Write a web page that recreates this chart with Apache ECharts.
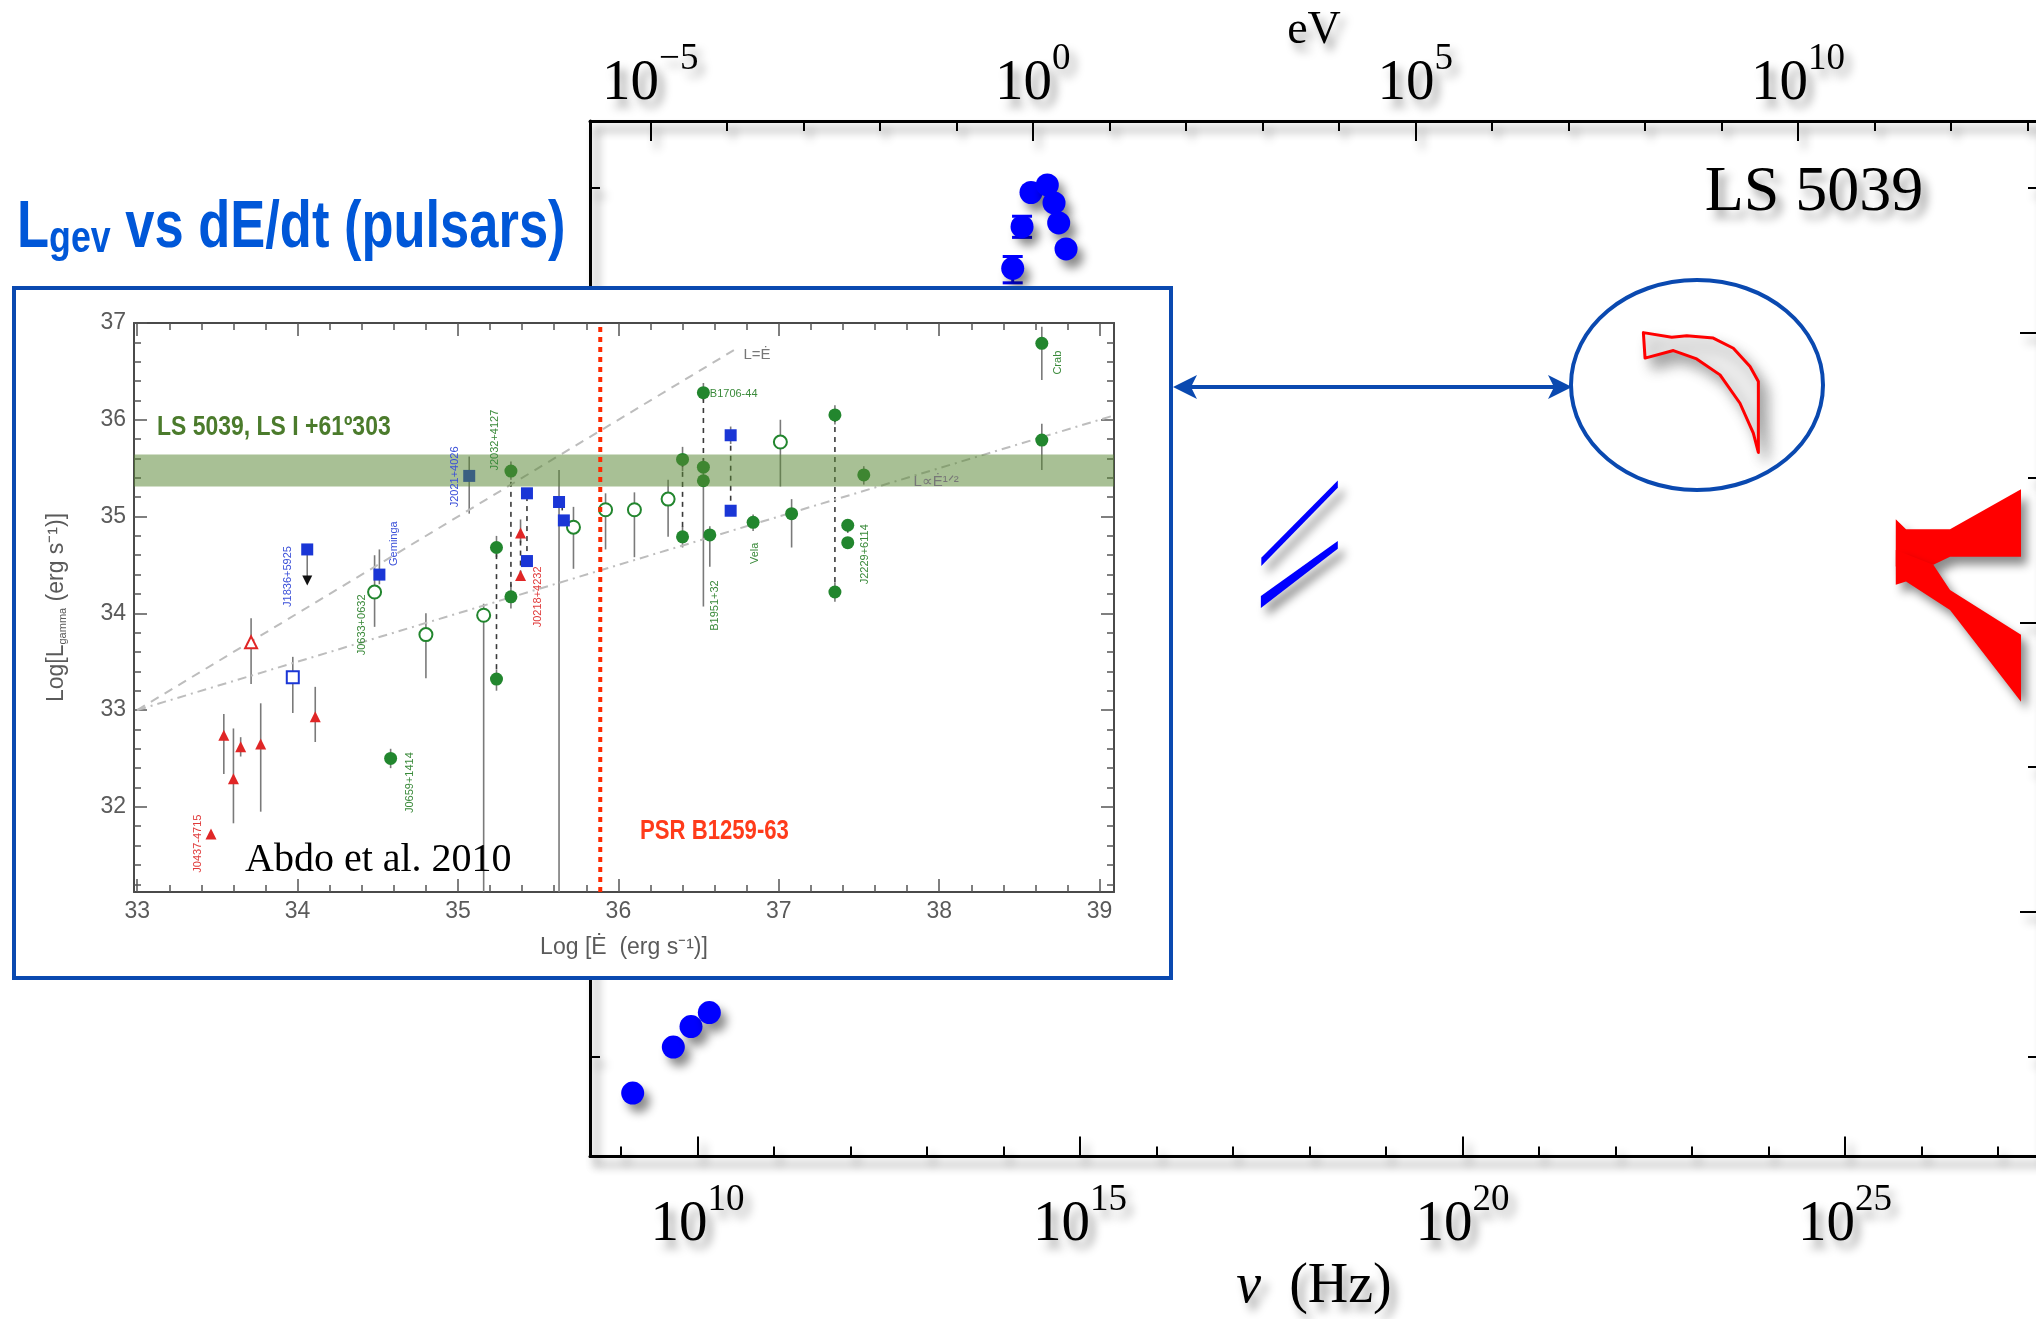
<!DOCTYPE html>
<html>
<head>
<meta charset="utf-8">
<script src="https://cdn.jsdelivr.net/npm/echarts@6/dist/echarts.min.js"></script>
<style>
html,body{margin:0;padding:0;background:#ffffff;}
#chart{width:2036px;height:1319px;}
</style>
</head>
<body>
<div id="chart"></div>
<script>
// ===== Main SED of LS 5039 : x = log10(nu/Hz), y = log10(nuFnu) =====
const sedNuMajor = [10, 15, 20, 25];
const sedNuMinor = [9, 11, 12, 13, 14, 16, 17, 18, 19, 21, 22, 23, 24, 26, 27];
const sedEvMajor = [-5, 0, 5, 10];
const sedEvMinor = [-4, -3, -2, -1, 1, 2, 3, 4, 6, 7, 8, 9, 11, 12, 13];
const sedYMajor = [-12, -11, -10];
const sedYMinor = [-12.5, -11.5, -10.5, -9.5];
const sedXMin = 8.596, sedXMax = 27.522, sedYMin = -12.845, sedYMax = -9.268;
const logHzPerEv = 14.3835;

const radioX = [9.154, 9.685, 9.916, 10.156];
const radioY = [-12.626, -12.467, -12.396, -12.348];
const opticalX = [14.121, 14.243, 14.360, 14.573, 14.661, 14.722, 14.818];
const opticalY = [-9.777, -9.633, -9.515, -9.489, -9.551, -9.620, -9.710];
const opticalErrX = [14.121, 14.243];
const opticalErrLo = [-9.827, -9.670];
const opticalErrHi = [-9.736, -9.597];

const xrayHighPoly = [[17.37, -10.777], [18.37, -10.5095], [18.37, -10.535], [17.37, -10.805]];
const xrayLowPoly = [[17.365, -10.9085], [18.37, -10.7185], [18.37, -10.746], [17.365, -10.950]];
const fermiPoly = [[22.364, -9.999], [22.735, -10.015], [22.931, -10.010], [23.278, -10.018], [23.540, -10.053],
  [23.758, -10.116], [23.867, -10.168], [23.867, -10.413], [23.801, -10.346], [23.627, -10.243],
  [23.366, -10.145], [23.061, -10.090], [22.756, -10.061], [22.386, -10.087]];
const hessInfPoly = [[25.663, -10.644], [25.797, -10.678], [26.372, -10.678], [27.300, -10.540], [27.300, -10.773],
  [26.372, -10.773], [26.154, -10.801], [25.663, -10.807]];
const hessSupPoly = [[25.663, -10.750], [26.154, -10.801], [26.372, -10.888], [27.300, -11.043], [27.300, -11.274],
  [26.372, -10.957], [25.797, -10.859], [25.663, -10.870]];

// ===== Inset: Abdo et al. 2010, Log L_gamma vs Log Edot =====
const insetXMin = 32.98, insetXMax = 39.09, insetYMin = 31.12, insetYMax = 37;
const insetXMajor = [33, 34, 35, 36, 37, 38, 39];
const insetXMinor = [33.2, 33.4, 33.6, 33.8, 34.2, 34.4, 34.6, 34.8, 35.2, 35.4, 35.6, 35.8, 36.2, 36.4, 36.6, 36.8,
  37.2, 37.4, 37.6, 37.8, 38.2, 38.4, 38.6, 38.8];
const insetYMajor = [32, 33, 34, 35, 36, 37];
const insetYMinor = [31.2, 31.4, 31.6, 31.8, 32.2, 32.4, 32.6, 32.8, 33.2, 33.4, 33.6, 33.8, 34.2, 34.4, 34.6, 34.8,
  35.2, 35.4, 35.6, 35.8, 36.2, 36.4, 36.6, 36.8];

const greenX = [34.58, 35.24, 35.24, 35.33, 35.33, 36.40, 36.40, 36.53, 36.53, 36.53, 36.57, 36.84, 37.08, 37.35, 37.35, 37.53, 37.43, 37.43, 38.64, 38.64];
const greenY = [32.50, 34.68, 33.32, 35.47, 34.17, 35.59, 34.79, 36.28, 35.51, 35.37, 34.81, 34.94, 35.03, 36.05, 34.22, 35.43, 34.91, 34.73, 36.79, 35.79];
const greenOpenX = [34.48, 34.80, 35.16, 35.72, 35.92, 36.10, 36.31, 37.01];
const greenOpenY = [34.22, 33.78, 33.98, 34.89, 35.07, 35.07, 35.18, 35.77];
const blueX = [34.06, 34.51, 35.07, 35.43, 35.43, 35.63, 35.66, 36.70, 36.70];
const blueY = [34.66, 34.40, 35.42, 35.24, 34.54, 35.15, 34.96, 35.84, 35.06];
const blueOpenX = [33.97];
const blueOpenY = [33.34];
const redX = [33.46, 33.54, 33.60, 33.645, 33.77, 34.11, 35.39, 35.39];
const redY = [31.72, 32.74, 32.29, 32.62, 32.65, 32.93, 34.83, 34.39];
const redOpenX = [33.71];
const redOpenY = [33.70];
const upperLimX = [34.06];
const upperLimY = [34.34];

const errX = [34.58, 35.24, 35.24, 35.33, 35.33, 36.40, 36.40, 36.53, 36.53, 36.57, 36.84, 37.08, 37.35, 37.35, 37.53, 38.64, 38.64,
  34.48, 34.80, 35.16, 35.72, 35.92, 36.10, 36.31, 37.01,
  34.06, 34.51, 35.07, 35.63, 36.70, 33.97,
  33.54, 33.60, 33.645, 33.77, 34.11, 35.39, 33.71];
const errLo = [32.40, 34.58, 33.20, 35.38, 34.05, 35.47, 34.68, 36.20, 34.07, 34.48, 34.85, 34.68, 35.95, 34.12, 35.33, 36.41, 35.48,
  33.86, 33.33, 31.12, 34.46, 34.66, 34.58, 34.79, 35.31,
  34.36, 34.30, 35.03, 31.12, 35.75, 32.97,
  32.34, 31.83, 32.52, 31.95, 32.67, 34.73, 33.27];
const errHi = [32.60, 34.80, 33.42, 35.57, 34.30, 35.72, 34.90, 36.38, 35.60, 34.90, 35.02, 35.18, 36.15, 34.32, 35.52, 36.96, 35.96,
  34.60, 34.00, 34.10, 35.10, 35.24, 35.25, 35.38, 36.00,
  34.66, 34.66, 35.62, 35.48, 35.93, 33.55,
  32.96, 32.81, 32.72, 33.07, 33.24, 34.97, 33.95];

const linkX = [35.24, 35.33, 35.39, 35.43, 35.65, 36.40, 36.53, 36.70, 37.35, 37.43];
const linkLo = [33.32, 34.17, 34.39, 34.54, 34.96, 34.79, 35.45, 35.06, 34.22, 34.73];
const linkHi = [34.68, 35.47, 34.83, 35.24, 35.15, 35.59, 36.28, 35.84, 36.05, 34.91];

const lineEqX = [33, 36.72], lineEqY = [33, 36.72];
const lineHalfX = [33, 39.09], lineHalfY = [33, 36.045];
const bandLow = 35.31, bandHigh = 35.64;
const psrB1259Edot = 35.887;

const psrName = ['J0437-4715', 'J1836+5925', 'Geminga', 'J0633+0632', 'J0659+1414', 'J2021+4026', 'J2032+4127', 'J0218+4232', 'B1951+32', 'Vela', 'J2229+6114', 'Crab'];
const psrX = [33.38, 33.94, 34.60, 34.40, 34.70, 34.98, 35.23, 35.50, 36.60, 36.85, 37.54, 38.74];
const psrY = [31.62, 34.38, 34.72, 33.88, 32.25, 35.41, 35.79, 34.17, 34.08, 34.62, 34.61, 36.59];
const psrColor = ['#e03a3a', '#3a4fd8', '#3a4fd8', '#3a8a3a', '#3a8a3a', '#3a4fd8', '#3a8a3a', '#e03a3a', '#3a8a3a', '#3a8a3a', '#3a8a3a', '#3a8a3a'];

// ===== style helpers =====
const SH = {shadowColor: 'rgba(0,0,0,0.45)', shadowBlur: 10, shadowOffsetX: 6, shadowOffsetY: 8};
const TSH = {textShadowColor: 'rgba(0,0,0,0.40)', textShadowBlur: 10, textShadowOffsetX: 6, textShadowOffsetY: 8};
const GREEN = '#22862e', BLUE = '#1a36d6', RED = '#e02626';

function baseAxis(o) {
  return Object.assign({
    type: 'value', silent: true,
    axisLine: {show: false, onZero: false},
    axisLabel: {show: false},
    axisTick: {show: false},
    splitLine: {show: false}
  }, o);
}
function sedTickLabel(v) {
  const s = String(v).replace('-', '\u2212');
  return '{b|10}{s|' + s + '}';
}
const sedRich = {
  b: Object.assign({fontFamily: 'Liberation Serif', fontSize: 57, lineHeight: 72, verticalAlign: 'bottom', color: '#000'}, TSH),
  s: Object.assign({fontFamily: 'Liberation Serif', fontSize: 37, lineHeight: 37, verticalAlign: 'top', color: '#000'}, TSH)
};
const sedLine = {show: true, onZero: false, lineStyle: Object.assign({color: '#000', width: 3}, SH)};
const sedTick = (vals, len) => ({show: true, inside: true, length: len, customValues: vals, lineStyle: Object.assign({color: '#000', width: 2}, SH)});
const insLine = {show: true, onZero: false, lineStyle: {color: '#4a4a4a', width: 2}};
const insTick = (vals, len) => ({show: true, inside: true, length: len, customValues: vals, lineStyle: {color: '#555', width: 1.5}});
const insLabel = (vals) => ({show: true, customValues: vals, color: '#5a5a5a', fontFamily: 'Liberation Sans', fontSize: 23, margin: 8});

// x axes: 0-3 SED, 4-7 inset
const xAxes = [
  baseAxis({gridIndex: 0, position: 'bottom', min: sedXMin, max: sedXMax, axisLine: sedLine,
    axisTick: sedTick(sedNuMajor, 20),
    axisLabel: Object.assign({show: true, customValues: sedNuMajor, margin: 25, formatter: sedTickLabel, rich: sedRich}, TSH),
    name: '{i|\u03bd}{r|  (Hz)}', nameLocation: 'middle', nameGap: 103,
    nameTextStyle: Object.assign({rich: {
      i: Object.assign({fontFamily: 'Liberation Serif', fontStyle: 'italic', fontSize: 56, color: '#000'}, TSH),
      r: Object.assign({fontFamily: 'Liberation Serif', fontSize: 56, color: '#000'}, TSH)}}, TSH)}),
  baseAxis({gridIndex: 0, position: 'bottom', min: sedXMin, max: sedXMax, axisTick: sedTick(sedNuMinor, 10)}),
  baseAxis({gridIndex: 0, position: 'top', min: sedXMin - logHzPerEv, max: sedXMax - logHzPerEv, axisLine: sedLine,
    axisTick: sedTick(sedEvMajor, 20),
    axisLabel: Object.assign({show: true, customValues: sedEvMajor, margin: 8, formatter: sedTickLabel, rich: sedRich}, TSH),
    name: 'eV', nameLocation: 'middle', nameGap: 67, nameMoveOverlap: false,
    nameTextStyle: Object.assign({fontFamily: 'Liberation Serif', fontSize: 46, color: '#000'}, TSH)}),
  baseAxis({gridIndex: 0, position: 'top', min: sedXMin - logHzPerEv, max: sedXMax - logHzPerEv, axisTick: sedTick(sedEvMinor, 10)}),
  baseAxis({gridIndex: 1, position: 'bottom', min: insetXMin, max: insetXMax, z: 6, axisLine: insLine,
    axisTick: insTick(insetXMajor, 13), axisLabel: insLabel(insetXMajor),
    name: 'Log [\u0116  (erg s\u207b\u00b9)]', nameLocation: 'middle', nameGap: 44,
    nameTextStyle: {color: '#5a5a5a', fontFamily: 'Liberation Sans', fontSize: 23}}),
  baseAxis({gridIndex: 1, position: 'bottom', min: insetXMin, max: insetXMax, z: 6, axisTick: insTick(insetXMinor, 7)}),
  baseAxis({gridIndex: 1, position: 'top', min: insetXMin, max: insetXMax, z: 6, axisLine: insLine, axisTick: insTick(insetXMajor, 13)}),
  baseAxis({gridIndex: 1, position: 'top', min: insetXMin, max: insetXMax, z: 6, axisTick: insTick(insetXMinor, 7)})
];
const yAxes = [
  baseAxis({gridIndex: 0, position: 'left', min: sedYMin, max: sedYMax, axisLine: sedLine, axisTick: sedTick(sedYMajor, 18)}),
  baseAxis({gridIndex: 0, position: 'left', min: sedYMin, max: sedYMax, axisTick: sedTick(sedYMinor, 10)}),
  baseAxis({gridIndex: 0, position: 'right', min: sedYMin, max: sedYMax, axisLine: sedLine, axisTick: sedTick(sedYMajor, 18)}),
  baseAxis({gridIndex: 0, position: 'right', min: sedYMin, max: sedYMax, axisTick: sedTick(sedYMinor, 10)}),
  baseAxis({gridIndex: 1, position: 'left', min: insetYMin, max: insetYMax, z: 6, axisLine: insLine,
    axisTick: insTick(insetYMajor, 13), axisLabel: insLabel(insetYMajor),
    name: '{a|Log[L}{g|gamma}{a| (erg s\u207b\u00b9)]}', nameLocation: 'middle', nameRotate: 90, nameGap: 66,
    nameTextStyle: {rich: {
      a: {color: '#5a5a5a', fontFamily: 'Liberation Sans', fontSize: 23},
      g: {color: '#5a5a5a', fontFamily: 'Liberation Sans', fontSize: 11, verticalAlign: 'bottom', lineHeight: 20}}}}),
  baseAxis({gridIndex: 1, position: 'left', min: insetYMin, max: insetYMax, z: 6, axisTick: insTick(insetYMinor, 7)}),
  baseAxis({gridIndex: 1, position: 'right', min: insetYMin, max: insetYMax, z: 6, axisLine: insLine, axisTick: insTick(insetYMajor, 13)}),
  baseAxis({gridIndex: 1, position: 'right', min: insetYMin, max: insetYMax, z: 6, axisTick: insTick(insetYMinor, 7)})
];

// ===== series helpers =====
function polySeries(pts, style, xi, yi, z) {
  return {type: 'custom', xAxisIndex: xi, yAxisIndex: yi, z: z, silent: true, animation: false, clip: false,
    data: pts,
    renderItem: function (params, api) {
      if (params.dataIndex !== 0) return null;
      return {type: 'polygon', shape: {points: pts.map(p => api.coord(p))}, style: style};
    }};
}
function vlineSeries(xs, los, his, style, xi, yi, z, capW) {
  return {type: 'custom', xAxisIndex: xi, yAxisIndex: yi, z: z, silent: true, animation: false, clip: false,
    data: xs.map((x, i) => [x, los[i], his[i]]),
    renderItem: function (params, api) {
      const a = api.coord([api.value(0), api.value(1)]);
      const b = api.coord([api.value(0), api.value(2)]);
      const ch = [{type: 'line', shape: {x1: a[0], y1: a[1], x2: b[0], y2: b[1]}, style: style}];
      if (capW) {
        ch.push({type: 'line', shape: {x1: a[0] - capW / 2, y1: a[1], x2: a[0] + capW / 2, y2: a[1]}, style: style});
        ch.push({type: 'line', shape: {x1: b[0] - capW / 2, y1: b[1], x2: b[0] + capW / 2, y2: b[1]}, style: style});
      }
      return {type: 'group', children: ch};
    }};
}
function scat(xs, ys, symbol, size, color, open, z, extra) {
  return Object.assign({type: 'scatter', xAxisIndex: 4, yAxisIndex: 4, z: z, silent: true, animation: false,
    symbol: symbol, symbolSize: size, data: xs.map((x, i) => [x, ys[i]]),
    itemStyle: open ? {color: '#fff', borderColor: color, borderWidth: 2, opacity: 1} : {color: color, borderColor: color, borderWidth: 0, opacity: 1}}, extra || {});
}
function textSeries(names, xs, ys, colors, rot, size, align, z) {
  return {type: 'custom', xAxisIndex: 4, yAxisIndex: 4, z: z, silent: true, animation: false, clip: false,
    data: xs.map((x, i) => [x, ys[i]]),
    renderItem: function (params, api) {
      const p = api.coord([api.value(0), api.value(1)]);
      const i = params.dataIndex;
      return {type: 'text', x: p[0], y: p[1], rotation: rot,
        style: {text: names[i], fill: colors[i], fontSize: size, fontFamily: 'Liberation Sans', align: align, verticalAlign: 'middle'}};
    }};
}

const series = [
  // ---- SED ----
  polySeries(xrayHighPoly, Object.assign({fill: '#0000ff'}, SH), 0, 0, 2),
  polySeries(xrayLowPoly, Object.assign({fill: '#0000ff'}, SH), 0, 0, 2),
  polySeries(fermiPoly, Object.assign({fill: '#ececec', stroke: '#ff0000', lineWidth: 3, lineJoin: 'round'}, {shadowColor: 'rgba(0,0,0,0.35)', shadowBlur: 14, shadowOffsetX: 8, shadowOffsetY: 10}), 0, 0, 2),
  polySeries(hessInfPoly, Object.assign({fill: '#ff0000'}, SH), 0, 0, 2),
  polySeries(hessSupPoly, Object.assign({fill: '#ff0000'}, SH), 0, 0, 2),
  vlineSeries(opticalErrX, opticalErrLo, opticalErrHi, {stroke: '#0000ff', lineWidth: 3}, 0, 0, 2, 20),
  {type: 'scatter', xAxisIndex: 0, yAxisIndex: 0, z: 3, silent: true, animation: false, symbol: 'circle', symbolSize: 23,
    data: radioX.map((x, i) => [x, radioY[i]]), itemStyle: Object.assign({color: '#0000ff', opacity: 1}, SH)},
  {type: 'scatter', xAxisIndex: 0, yAxisIndex: 0, z: 3, silent: true, animation: false, symbol: 'circle', symbolSize: 23,
    data: opticalX.map((x, i) => [x, opticalY[i]]), itemStyle: Object.assign({color: '#0000ff', opacity: 1}, SH)},
  // ---- Inset ----
  {type: 'line', xAxisIndex: 4, yAxisIndex: 4, z: 7, silent: true, animation: false, symbol: 'none',
    data: lineEqX.map((x, i) => [x, lineEqY[i]]), lineStyle: {color: '#bdbdbd', width: 2, type: [9, 7]}},
  {type: 'line', xAxisIndex: 4, yAxisIndex: 4, z: 7, silent: true, animation: false, symbol: 'none',
    data: lineHalfX.map((x, i) => [x, lineHalfY[i]]), lineStyle: {color: '#bdbdbd', width: 2, type: [9, 5, 2, 5]}},
  vlineSeries(errX, errLo, errHi, {stroke: '#7a7a7a', lineWidth: 1.6}, 4, 4, 7, 0),
  vlineSeries(linkX, linkLo, linkHi, {stroke: '#3a3a3a', lineWidth: 1.6, lineDash: [5, 5]}, 4, 4, 7, 0),
  scat(greenX, greenY, 'circle', 13, GREEN, false, 8),
  scat(greenOpenX, greenOpenY, 'circle', 13, GREEN, true, 8),
  scat(blueX, blueY, 'rect', 12, BLUE, false, 8),
  scat(blueOpenX, blueOpenY, 'rect', 12, BLUE, true, 8),
  scat(redX, redY, 'triangle', 11, RED, false, 8),
  scat(redOpenX, redOpenY, 'triangle', 12, RED, true, 8),
  scat(upperLimX, upperLimY, 'triangle', 10, '#111', false, 8, {symbolRotate: 180}),
  polySeries([[insetXMin, bandLow], [insetXMax, bandLow], [insetXMax, bandHigh], [insetXMin, bandHigh]],
    {fill: 'rgba(88,135,52,0.52)'}, 4, 4, 9),
  vlineSeries([psrB1259Edot], [insetYMin], [insetYMax], {stroke: '#ff2a00', lineWidth: 4, lineDash: [5, 5]}, 4, 4, 9, 0),
  textSeries(psrName, psrX, psrY, psrColor, Math.PI / 2, 11, 'center', 9),
  textSeries(['B1706-44'], [36.57], [36.27], ['#3a8a3a'], 0, 11, 'left', 9),
  textSeries(['L=\u0116', 'L\u221d\u0116\u00b9\u141f\u00b2'], [36.78, 37.84], [36.67, 35.36], ['#777', '#777'], 0, 15, 'left', 9)
];

const INK = '#0a49b0';
const graphics = [
  {type: 'rect', z: 5, silent: true, shape: {x: 14, y: 288, width: 1157, height: 690},
    style: {fill: '#ffffff', stroke: INK, lineWidth: 4}},
  {type: 'text', z: 10, silent: true, x: 17, y: 196, scaleX: 0.795,
    style: {text: '{a|L}{b|gev}{a| vs dE/dt (pulsars)}', align: 'left', verticalAlign: 'top',
      rich: {a: {fontFamily: 'Liberation Sans', fontWeight: 'bold', fontSize: 66, lineHeight: 66, fill: '#0057d8', verticalAlign: 'bottom'},
             b: {fontFamily: 'Liberation Sans', fontWeight: 'bold', fontSize: 45, lineHeight: 45, fill: '#0057d8', verticalAlign: 'bottom'}}}},
  {type: 'text', z: 10, silent: true, x: 157, y: 427, scaleX: 0.82,
    style: {text: 'LS 5039, LS I +61\u00ba303', fontFamily: 'Liberation Sans', fontWeight: 'bold', fontSize: 28, fill: '#4b7b2c', align: 'left', verticalAlign: 'middle'}},
  {type: 'text', z: 10, silent: true, x: 640, y: 832, scaleX: 0.82,
    style: {text: 'PSR B1259-63', fontFamily: 'Liberation Sans', fontWeight: 'bold', fontSize: 27, fill: '#ff3b1a', align: 'left', verticalAlign: 'middle'}},
  {type: 'text', z: 10, silent: true, x: 245, y: 860,
    style: {text: 'Abdo et al. 2010', fontFamily: 'Liberation Serif', fontSize: 40, fill: '#000', align: 'left', verticalAlign: 'middle'}},
  {type: 'text', z: 10, silent: true, x: 1814, y: 193,
    style: Object.assign({text: 'LS 5039', fontFamily: 'Liberation Serif', fontSize: 64, fill: '#000', align: 'center', verticalAlign: 'middle'}, TSH)},
  {type: 'ellipse', z: 10, silent: true, shape: {cx: 1697, cy: 385, rx: 126, ry: 105}, style: {fill: null, stroke: INK, lineWidth: 4}},
  {type: 'line', z: 10, silent: true, shape: {x1: 1190, y1: 387, x2: 1556, y2: 387}, style: {stroke: INK, lineWidth: 4}},
  {type: 'polygon', z: 10, silent: true, shape: {points: [[1173, 387], [1197, 375], [1191, 387], [1197, 399]]}, style: {fill: INK}},
  {type: 'polygon', z: 10, silent: true, shape: {points: [[1572, 387], [1548, 375], [1554, 387], [1548, 399]]}, style: {fill: INK}}
];

const chart = echarts.init(document.getElementById('chart'), null, {renderer: 'canvas'});
chart.setOption({
  animation: false,
  backgroundColor: '#ffffff',
  grid: [
    {left: 590, top: 121, width: 1448, height: 1035.5, containLabel: false, outerBoundsMode: 'none'},
    {left: 134, top: 323, width: 980, height: 569, containLabel: false, outerBoundsMode: 'none'}
  ],
  xAxis: xAxes,
  yAxis: yAxes,
  series: series,
  graphic: {elements: graphics}
});
</script>
</body>
</html>
